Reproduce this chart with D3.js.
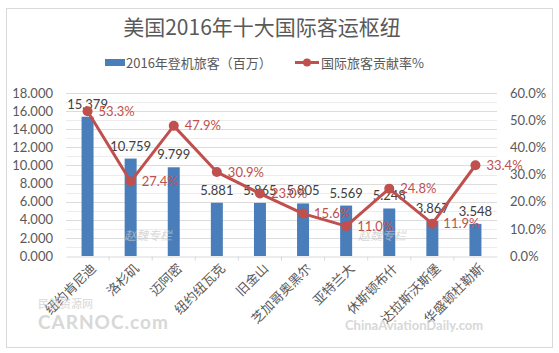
<!DOCTYPE html>
<html lang="zh">
<head>
  <meta charset="utf-8">
  <title>美国2016年十大国际客运枢纽</title>
  <script type="text/javascript" src="https://cdn.jsdelivr.net/npm/d3@7"></script>
  <style>
    body { margin: 0; background: #fff; }
    text { font-family: "Lato", "Noto Sans CJK SC", sans-serif; }
    .cjk { font-family: "Noto Sans CJK SC", sans-serif; }
  </style>
</head>
<body>
<script type="text/javascript">
  // data
  let airports = ["纽约肯尼迪", "洛杉矶", "迈阿密", "纽约纽瓦克", "旧金山",
                  "芝加哥奥黑尔", "亚特兰大", "休斯顿布什", "达拉斯沃斯堡", "华盛顿杜勒斯"];
  let passengers = [15.379, 10.759, 9.799, 5.881, 5.865, 5.805, 5.569, 5.248, 3.867, 3.548];
  let intlShare = [53.3, 27.4, 47.9, 30.9, 23.0, 15.6, 11.0, 24.8, 11.9, 33.4];
  let leftTicks = [0, 2, 4, 6, 8, 10, 12, 14, 16, 18];
  let rightTicks = [0, 10, 20, 30, 40, 50, 60];

  let w = 559, h = 353;
  let blue = "#4a7ebb", red = "#c0504d", grey = "#595959";
  let plotLeft = 66, plotRight = 497, plotTop = 93, plotBottom = 256;

  let svg = d3.select("body").append("svg")
    .attr("width", w)
    .attr("height", h);

  // outer frame
  svg.append("rect")
    .attr("x", 6.5).attr("y", 8.5)
    .attr("width", 546).attr("height", 339)
    .attr("fill", "#fff")
    .attr("stroke", "#d9d9d9");

  let x = d3.scaleBand().domain(airports).range([plotLeft, plotRight]);
  let y = d3.scaleLinear().domain([0, 18]).range([plotBottom, plotTop]);
  let y2 = d3.scaleLinear().domain([0, 60]).range([plotBottom, plotTop]);

  // light grid every 1.000
  svg.append("g").selectAll("line")
    .data(d3.range(1, 19))
    .enter().append("line")
    .attr("x1", plotLeft).attr("x2", plotRight)
    .attr("y1", d => Math.round(y(d)) + 0.5)
    .attr("y2", d => Math.round(y(d)) + 0.5)
    .attr("stroke", d => d % 2 === 0 ? "#dcdcdc" : "#ececec");

  // axes
  let yAxis = d3.axisLeft(y).tickValues(leftTicks).tickFormat(d3.format(".3f")).tickSize(0).tickPadding(13);
  let gy = svg.append("g").attr("transform", "translate(" + plotLeft + ",0)").call(yAxis);
  gy.select(".domain").remove();
  gy.selectAll("text").attr("font-size", 13).attr("fill", grey).style("font-family", "Lato, sans-serif");

  let y2Axis = d3.axisRight(y2).tickValues(rightTicks).tickFormat(d => d3.format(".1f")(d) + "%").tickSize(0).tickPadding(13);
  let gy2 = svg.append("g").attr("transform", "translate(" + plotRight + ",0)").call(y2Axis);
  gy2.select(".domain").remove();
  gy2.selectAll("text").attr("font-size", 13).attr("fill", grey).style("font-family", "Lato, sans-serif");

  let xAxis = d3.axisBottom(x).tickSize(0).tickFormat("");
  let gx = svg.append("g").attr("transform", "translate(0," + (plotBottom + 0.5) + ")").call(xAxis);
  gx.select(".domain").attr("stroke", "#d9d9d9");
  gx.selectAll(".sep")
    .data(airports.slice(1))
    .enter().append("line")
    .attr("class", "sep")
    .attr("x1", d => x(d)).attr("x2", d => x(d))
    .attr("y1", 0).attr("y2", 4)
    .attr("stroke", "#d9d9d9");

  // category labels, rotated
  svg.append("g").selectAll("text")
    .data(airports)
    .enter().append("text")
    .attr("class", "cjk")
    .attr("transform", d => "translate(" + (x(d) + x.bandwidth() / 2 + 6) + "," + (plotBottom + 10) + ") rotate(-45)")
    .attr("text-anchor", "end")
    .attr("dy", "0.35em")
    .attr("font-size", 13)
    .attr("fill", grey)
    .text(d => d);

  // bars
  let bw = 12;
  svg.append("g").selectAll("rect")
    .data(passengers)
    .enter().append("rect")
    .attr("x", (d, i) => x(airports[i]) + x.bandwidth() / 2 - bw / 2)
    .attr("y", d => y(d))
    .attr("width", bw)
    .attr("height", d => plotBottom - y(d))
    .attr("fill", blue);

  // watermarks
  let wm = svg.append("g").attr("class", "cjk").attr("fill", "#c8c8c8").attr("opacity", 0.7);
  wm.append("text").attr("x", 148).attr("y", 240).attr("font-size", 12).attr("font-style", "italic").attr("text-anchor", "middle").text("赵魏专栏");
  wm.append("text").attr("x", 382).attr("y", 240).attr("font-size", 12).attr("font-style", "italic").attr("text-anchor", "middle").text("赵魏专栏");
  wm.append("text").attr("x", 38).attr("y", 308).attr("font-size", 11).text("民航资源网");
  wm.append("text").attr("x", 38).attr("y", 329).attr("font-size", 19).attr("font-weight", "bold").attr("letter-spacing", 1).text("CARNOC.com");
  wm.append("text").attr("x", 345).attr("y", 330).attr("font-size", 13).attr("font-weight", "bold").text("ChinaAviationDaily.com");

  // bar value labels
  svg.append("g").selectAll("text")
    .data(passengers)
    .enter().append("text")
    .attr("x", (d, i) => x(airports[i]) + x.bandwidth() / 2)
    .attr("y", d => y(d) - 8)
    .attr("text-anchor", "middle")
    .attr("font-size", 13)
    .attr("fill", "#404040")
    .text(d => d3.format(".3f")(d));

  // share line
  let line = d3.line()
    .x((d, i) => x(airports[i]) + x.bandwidth() / 2)
    .y(d => y2(d));

  svg.append("path")
    .datum(intlShare)
    .attr("d", line)
    .attr("fill", "none")
    .attr("stroke", red)
    .attr("stroke-width", 3)
    .attr("stroke-linejoin", "round");

  svg.append("g").selectAll("circle")
    .data(intlShare)
    .enter().append("circle")
    .attr("cx", (d, i) => x(airports[i]) + x.bandwidth() / 2)
    .attr("cy", d => y2(d))
    .attr("r", 5)
    .attr("fill", red);

  svg.append("g").selectAll("text")
    .data(intlShare)
    .enter().append("text")
    .attr("x", (d, i) => x(airports[i]) + x.bandwidth() / 2 + 11)
    .attr("y", d => y2(d))
    .attr("dy", "0.35em")
    .attr("font-size", 13)
    .attr("fill", red)
    .text(d => d3.format(".1f")(d) + "%");

  // title
  svg.append("text")
    .attr("class", "cjk")
    .attr("x", 262).attr("y", 35)
    .attr("text-anchor", "middle")
    .attr("font-size", 21)
    .attr("fill", grey)
    .text("美国2016年十大国际客运枢纽");

  // legend
  let lg = svg.append("g");
  lg.append("rect").attr("x", 105).attr("y", 59).attr("width", 20).attr("height", 7).attr("fill", blue);
  lg.append("text").attr("class", "cjk").attr("x", 126).attr("y", 63).attr("dy", "0.35em")
    .attr("font-size", 13).attr("fill", grey).text("2016年登机旅客（百万）");
  lg.append("line").attr("x1", 295).attr("x2", 319).attr("y1", 62.5).attr("y2", 62.5)
    .attr("stroke", red).attr("stroke-width", 3);
  lg.append("circle").attr("cx", 307).attr("cy", 62.5).attr("r", 4).attr("fill", red);
  lg.append("text").attr("class", "cjk").attr("x", 321).attr("y", 63).attr("dy", "0.35em")
    .attr("font-size", 13).attr("fill", grey).text("国际旅客贡献率%");
</script>
</body>
</html>
